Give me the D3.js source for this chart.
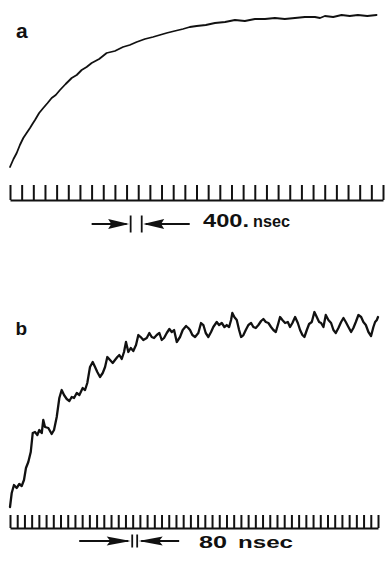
<!DOCTYPE html>
<html>
<head>
<meta charset="utf-8">
<script src="https://cdn.jsdelivr.net/npm/d3@7"></script>
<style>
  html, body { margin: 0; padding: 0; background: #fff; }
  svg { display: block; }
</style>
</head>
<body>
<div id="chart"></div>
<script>
// trace a: time (ns) and signal (arb. units)
const timeA = [0, 120, 230, 340, 456, 570, 686, 770, 858, 1000, 1142, 1290, 1430, 1570, 1715, 1910, 2117, 2290, 2460, 2630,
  2803, 3060, 3317, 3600, 3877, 4110, 4347, 4630, 4906, 5140, 5376, 5650, 5935, 6170, 6405, 6720, 7033, 7380, 7719, 8060,
  8405, 8750, 9091, 9430, 9777, 10120, 10463, 10640, 10806, 11090, 11379, 11660, 11938, 12260, 12580]
const signalA = [0, 8, 14, 22, 29, 34, 39, 43, 47, 54, 59, 64, 69, 72, 77, 83, 89, 92, 97, 100,
  104, 108, 114, 116, 120, 122, 125, 128, 130, 132, 134, 136, 138, 140, 141, 142, 144, 145, 147, 146,
  148, 148, 149, 148, 149, 150, 150, 149, 151, 150, 152, 151, 152, 151, 152]

// trace b: time (ns) and signal (arb. units)
const timeB = [0, 19, 44, 74, 103, 130, 155, 177, 203, 230, 252, 277, 303, 325, 352, 369, 388, 425, 462, 488,
  518, 547, 573, 599, 629, 658, 684, 710, 740, 769, 806, 832, 857, 887, 917, 943, 968, 998, 1028, 1054,
  1079, 1109, 1139, 1164, 1190, 1212, 1239, 1264, 1286, 1312, 1339, 1367, 1397, 1423, 1449, 1478, 1516, 1545, 1571, 1597,
  1627, 1656, 1682, 1708, 1738, 1767, 1793, 1819, 1849, 1885, 1915, 1952, 1977, 1996, 2022, 2052, 2088, 2118, 2144, 2170,
  2199, 2229, 2254, 2292, 2318, 2348, 2377, 2403, 2429, 2451, 2465, 2487, 2514, 2540, 2562, 2588, 2614, 2643, 2673, 2698,
  2725, 2754, 2784, 2809, 2836, 2865, 2894, 2920, 2947, 2976, 2994, 3020, 3050, 3080, 3105, 3131, 3161, 3191, 3216, 3242,
  3264, 3291, 3316, 3346, 3375, 3401, 3427, 3449, 3475, 3501, 3530, 3560, 3586, 3612, 3641, 3671, 3697, 3723, 3752, 3782,
  3807, 3834, 3863, 3893, 3918, 3945, 3974, 4003, 4029, 4048, 4067, 4080]
const signalB = [0, 14, 22, 19, 23, 21, 27, 39, 45, 55, 74, 75, 72, 77, 74, 87, 80, 79, 73, 77,
  90, 109, 117, 112, 108, 106, 110, 109, 114, 112, 119, 117, 124, 140, 145, 140, 135, 130, 134, 140,
  150, 147, 144, 147, 150, 152, 148, 155, 165, 155, 159, 156, 162, 172, 170, 167, 169, 174, 170, 169,
  172, 174, 167, 169, 174, 178, 175, 177, 165, 170, 177, 181, 179, 177, 172, 170, 174, 184, 182, 174,
  170, 175, 180, 185, 182, 184, 180, 182, 180, 187, 194, 190, 187, 177, 170, 172, 177, 182, 184, 180,
  179, 182, 186, 188, 185, 184, 180, 177, 175, 184, 190, 187, 184, 185, 180, 184, 190, 184, 177, 172,
  170, 177, 183, 185, 195, 190, 185, 184, 180, 192, 187, 184, 177, 174, 179, 185, 189, 185, 180, 175,
  179, 185, 192, 190, 185, 182, 175, 171, 180, 185, 187, 190]

// timing marks: one tick per 400 ns (a) and per 80 ns (b)
const tickStepA = 400
const tickCountA = 32
const tickStepB = 80
const tickCountB = 51

// scale-bar labels and where the little bars sit (ns)
const scaleLabelA = ['400.', 'nsec']
const scaleLabelB = ['80', 'nsec']
const scaleBarsA = [4140, 4520]
const scaleBarsB = [1355, 1410]

const width = 385
const height = 578
const font = '"Liberation Sans", Arial, Helvetica, sans-serif'

const svg = d3.select('#chart')
  .append('svg')
  .attr('width', width)
  .attr('height', height)

const xA = d3.scaleLinear().domain([0, tickStepA * tickCountA]).range([10, 383])
const yA = d3.scaleLinear().domain([0, 160]).range([167, 7])
const xB = d3.scaleLinear().domain([0, tickStepB * tickCountB]).range([10, 378])
const yB = d3.scaleLinear().domain([0, 200]).range([507, 307])

const drawTrace = (times, values, x, y, strokeW) => {
  const pts = times.map((t, i) => ({ t: t, v: values[i] }))
  const line = d3.line()
    .x((d) => x(d.t))
    .y((d) => y(d.v))
    .curve(d3.curveLinear)
  svg.append('path')
    .datum(pts)
    .attr('fill', 'none')
    .attr('stroke', '#111')
    .attr('stroke-width', strokeW)
    .attr('stroke-linejoin', 'round')
    .attr('stroke-linecap', 'round')
    .attr('d', line)
}

const drawTicks = (x, step, count, baseY, len) => {
  const axis = d3.axisTop(x)
    .tickValues(d3.range(0, step * count + 1, step))
    .tickSize(len)
    .tickSizeOuter(0)
    .tickFormat('')
  svg.append('g')
    .attr('transform', `translate(0, ${baseY})`)
    .call(axis)
    .call((g) => g.select('.domain').attr('stroke', '#111').attr('stroke-width', 2))
    .call((g) => g.selectAll('.tick line').attr('stroke', '#111').attr('stroke-width', 2))
}

// arrows pointing at two small bars, then the label
const drawScaleBar = (x, bars, o) => {
  const g = svg.append('g')
  const l = x(bars[0])
  const r = x(bars[1])
  const m = o.midY
  g.selectAll('line.bar')
    .data([l, r])
    .join('line')
    .attr('class', 'bar')
    .attr('x1', (d) => d).attr('x2', (d) => d)
    .attr('y1', m - o.barH / 2).attr('y2', m + o.barH / 2)
    .attr('stroke', '#111').attr('stroke-width', 1.8)
  // left arrow
  g.append('line')
    .attr('x1', l - 2 - o.shaftL).attr('x2', l - 4)
    .attr('y1', m).attr('y2', m)
    .attr('stroke', '#111').attr('stroke-width', 2)
  g.append('path')
    .attr('d', `M${l - 1.5},${m} L${l - 1.5 - o.head},${m - o.headH / 2} L${l - 1.5 - o.head * 0.85},${m} L${l - 1.5 - o.head},${m + o.headH / 2} Z`)
    .attr('fill', '#111')
  // right arrow
  g.append('line')
    .attr('x1', r + 4).attr('x2', r + 2 + o.shaftR)
    .attr('y1', m).attr('y2', m)
    .attr('stroke', '#111').attr('stroke-width', 2)
  g.append('path')
    .attr('d', `M${r + 1.5},${m} L${r + 1.5 + o.head},${m - o.headH / 2} L${r + 1.5 + o.head * 0.85},${m} L${r + 1.5 + o.head},${m + o.headH / 2} Z`)
    .attr('fill', '#111')
  g.selectAll('text')
    .data(o.labels)
    .join('text')
    .attr('x', (d, i) => o.pos[i].x)
    .attr('y', (d, i) => o.pos[i].y)
    .attr('textLength', (d, i) => o.pos[i].w)
    .attr('lengthAdjust', 'spacingAndGlyphs')
    .style('font-family', font)
    .style('font-weight', 'bold')
    .style('font-size', (d, i) => `${o.pos[i].size}px`)
    .attr('fill', '#111')
    .text((d) => d)
}

// panel a
drawTrace(timeA, signalA, xA, yA, 1.8)
drawTicks(xA, tickStepA, tickCountA, 200, 15)
drawScaleBar(xA, scaleBarsA, {
  midY: 224, barH: 17, shaftL: 37, shaftR: 46, head: 21, headH: 10,
  labels: scaleLabelA,
  pos: [
    { x: 203, y: 227, w: 46, size: 18 },
    { x: 253, y: 227, w: 37, size: 17 }
  ]
})
svg.append('text')
  .attr('x', 16).attr('y', 37.5)
  .style('font-family', font).style('font-weight', 'bold').style('font-size', '21px')
  .attr('fill', '#111')
  .text('a')

// panel b
drawTrace(timeB, signalB, xB, yB, 2.3)
drawTicks(xB, tickStepB, tickCountB, 528, 13)
drawScaleBar(xB, scaleBarsB, {
  midY: 541, barH: 13, shaftL: 51, shaftR: 40, head: 24, headH: 9,
  labels: scaleLabelB,
  pos: [
    { x: 199, y: 547.5, w: 28, size: 16 },
    { x: 238, y: 547.5, w: 55, size: 16 }
  ]
})
svg.append('text')
  .attr('x', 15.5).attr('y', 335)
  .style('font-family', font).style('font-weight', 'bold').style('font-size', '19px')
  .attr('fill', '#111')
  .text('b')
</script>
</body>
</html>
